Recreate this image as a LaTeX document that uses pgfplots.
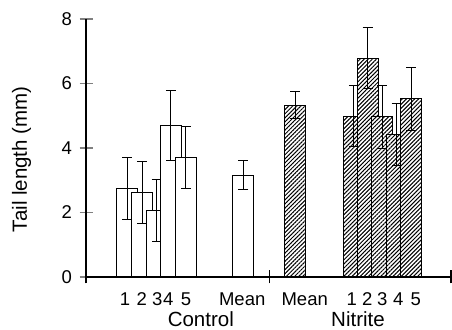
\documentclass[border=0pt]{standalone}
\usepackage{pgfplots}
\pgfplotsset{compat=1.18}
\usepackage{fontspec}
\setmainfont{Liberation Sans}
\usetikzlibrary{patterns.meta}

\pgfplotsset{
  plainbar/.style={ybar, bar width=21pt, bar shift=0pt, draw=black, line width=1pt, fill=white,
    error bars/.cd, y dir=both, y explicit,
    error bar style={line width=1pt},
    error mark options={rotate=90, mark size=5pt, line width=1pt}},
  hatchbar/.style={ybar, bar width=21pt, bar shift=0pt, draw=black, line width=1pt, fill=white,
    postaction={pattern={Lines[angle=45, distance=2.9pt, line width=1pt]}},
    error bars/.cd, y dir=both, y explicit,
    error bar style={line width=1pt},
    error mark options={rotate=90, mark size=5pt, line width=1pt}},
}

\begin{document}
\begin{tikzpicture}
\useasboundingbox (0,0) rectangle (452pt,329pt);
\begin{axis}[
  at={(86pt,52pt)}, anchor=south west,
  scale only axis, width=366pt, height=258pt,
  xmin=86, xmax=452, ymin=0, ymax=8,
  axis x line=bottom, axis y line=left,
  axis line style={-, line width=1.2pt},
  clip=false,
  ytick={0,2,4,6,8},
  ytick style={line width=1.2pt},
  major tick length=13pt, tick align=center,
  xtick={125,141.7,157.3,168.3,186,242.2,304.7,351.7,367.3,382.3,398.3,415.7},
  xticklabels={1,2,3,4,5,Mean,Mean,1,2,3,4,5},
  xtick style={draw=none},
  extra x ticks={86,269.3,451},
  extra x tick labels={},
  extra x tick style={xtick style={draw=black, line width=1.2pt}},
  /pgf/number format/assume math mode=true,
  tick label style={font=\fontsize{18.5}{21}\selectfont},
  xticklabel style={anchor=base, yshift=-21.6pt},
  yticklabel style={anchor=east, xshift=-4pt},
]
% Control 1-5
\addplot[plainbar] coordinates {(127.3,2.74) +- (0,0.95)};
\addplot[plainbar] coordinates {(142.2,2.62) +- (0,0.95)};
\addplot[plainbar] coordinates {(156.5,2.05) +- (0,0.96)};
\addplot[plainbar] coordinates {(170.8,4.69) +- (0,1.09)};
\addplot[plainbar] coordinates {(185.5,3.70) +- (0,0.97)};
% Control mean
\addplot[plainbar] coordinates {(243.3,3.16) +- (0,0.45)};
% Nitrite mean
\addplot[hatchbar] coordinates {(295.2,5.33) +- (0,0.43)};
% Nitrite 1-5
\addplot[hatchbar] coordinates {(353.8,4.99) +- (0,0.94)};
\addplot[hatchbar] coordinates {(367.5,6.78) +- (0,0.95)};
\addplot[hatchbar] coordinates {(382.2,4.97) +- (0,0.97)};
\addplot[hatchbar] coordinates {(396.5,4.42) +- (0,0.96)};
\addplot[hatchbar] coordinates {(411.0,5.52) +- (0,0.98)};
\node[anchor=base, inner sep=0pt, font=\fontsize{20.5}{24}\selectfont] at (axis cs:200.8,-1.52) {Control};
\node[anchor=base, inner sep=0pt, font=\fontsize{20.5}{24}\selectfont] at (axis cs:358,-1.52) {Nitrite};
\node[rotate=90, anchor=center, font=\fontsize{20.5}{24}\selectfont] at (axis cs:21.7,3.65) {Tail length (mm)};
\end{axis}
\end{tikzpicture}
\end{document}
